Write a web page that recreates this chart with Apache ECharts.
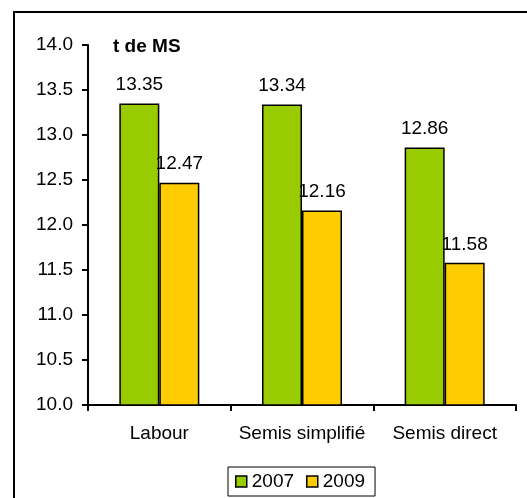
<!DOCTYPE html>
<html>
<head>
<meta charset="utf-8">
<script src="https://cdn.jsdelivr.net/npm/echarts@6/dist/echarts.min.js"></script>
<style>
  html, body { margin: 0; padding: 0; background: #fff; }
  #chart { width: 527px; height: 498px; }
</style>
</head>
<body>
<div id="chart"></div>
<script>
// Yields by tillage practice (t de MS)
const categories = ['Labour', 'Semis simplifié', 'Semis direct'];
const yield2007 = [13.35, 13.34, 12.86];
const yield2009 = [12.47, 12.16, 11.58];
const seriesNames = ['2007', '2009'];

const FONT = 'Arial, "Liberation Sans", sans-serif';
const chart = echarts.init(document.getElementById('chart'), null, { renderer: 'canvas' });

const barLabel = {
  show: true,
  position: 'top',
  distance: 9,
  color: '#000',
  fontFamily: FONT,
  fontSize: 19,
  formatter: p => p.value.toFixed(2)
};

chart.setOption({
  backgroundColor: '#fff',
  animation: false,
  title: {
    text: 't de MS',
    left: 108,
    top: 32,
    textStyle: { fontFamily: FONT, fontSize: 19, fontWeight: 'bold', color: '#000' }
  },
  grid: { left: 88, right: 11, top: 45, bottom: 93 },
  legend: {
    data: seriesNames,
    left: 228,
    top: 467,
    orient: 'horizontal',
    icon: 'rect',
    itemWidth: 11,
    itemHeight: 11,
    itemGap: 12,
    padding: [5, 10, 5, 7],
    borderColor: '#000',
    borderWidth: 1,
    itemStyle: { borderColor: '#000', borderWidth: 1.5 },
    textStyle: { fontFamily: FONT, fontSize: 19, color: '#000' }
  },
  xAxis: {
    type: 'category',
    data: categories,
    axisLine: { lineStyle: { color: '#000', width: 2 } },
    axisTick: { show: true, alignWithLabel: false, inside: false, length: 6, lineStyle: { color: '#000', width: 2 } },
    axisLabel: { interval: 0, hideOverlap: false, color: '#000', fontFamily: FONT, fontSize: 19, margin: 19 },
    splitLine: { show: false }
  },
  yAxis: {
    type: 'value',
    min: 10,
    max: 14,
    interval: 0.5,
    axisLine: { show: true, lineStyle: { color: '#000', width: 2 } },
    axisTick: { show: true, inside: false, length: 6, lineStyle: { color: '#000', width: 2 } },
    axisLabel: { color: '#000', fontFamily: FONT, fontSize: 19, margin: 15, formatter: v => v.toFixed(1) },
    splitLine: { show: false }
  },
  series: [
    {
      name: seriesNames[0],
      type: 'bar',
      data: yield2007,
      barWidth: 40,
      barGap: '0%',
      itemStyle: { color: '#99CC00', borderColor: '#000', borderWidth: 1.5 },
      label: barLabel
    },
    {
      name: seriesNames[1],
      type: 'bar',
      data: yield2009,
      barWidth: 40,
      itemStyle: { color: '#FFCC00', borderColor: '#000', borderWidth: 1.5 },
      label: barLabel
    }
  ],
  graphic: [
    {
      type: 'polyline',
      silent: true,
      shape: { points: [[14, 498], [14, 12], [527, 12]] },
      style: { stroke: '#000', lineWidth: 2, fill: null }
    }
  ]
});
</script>
</body>
</html>
